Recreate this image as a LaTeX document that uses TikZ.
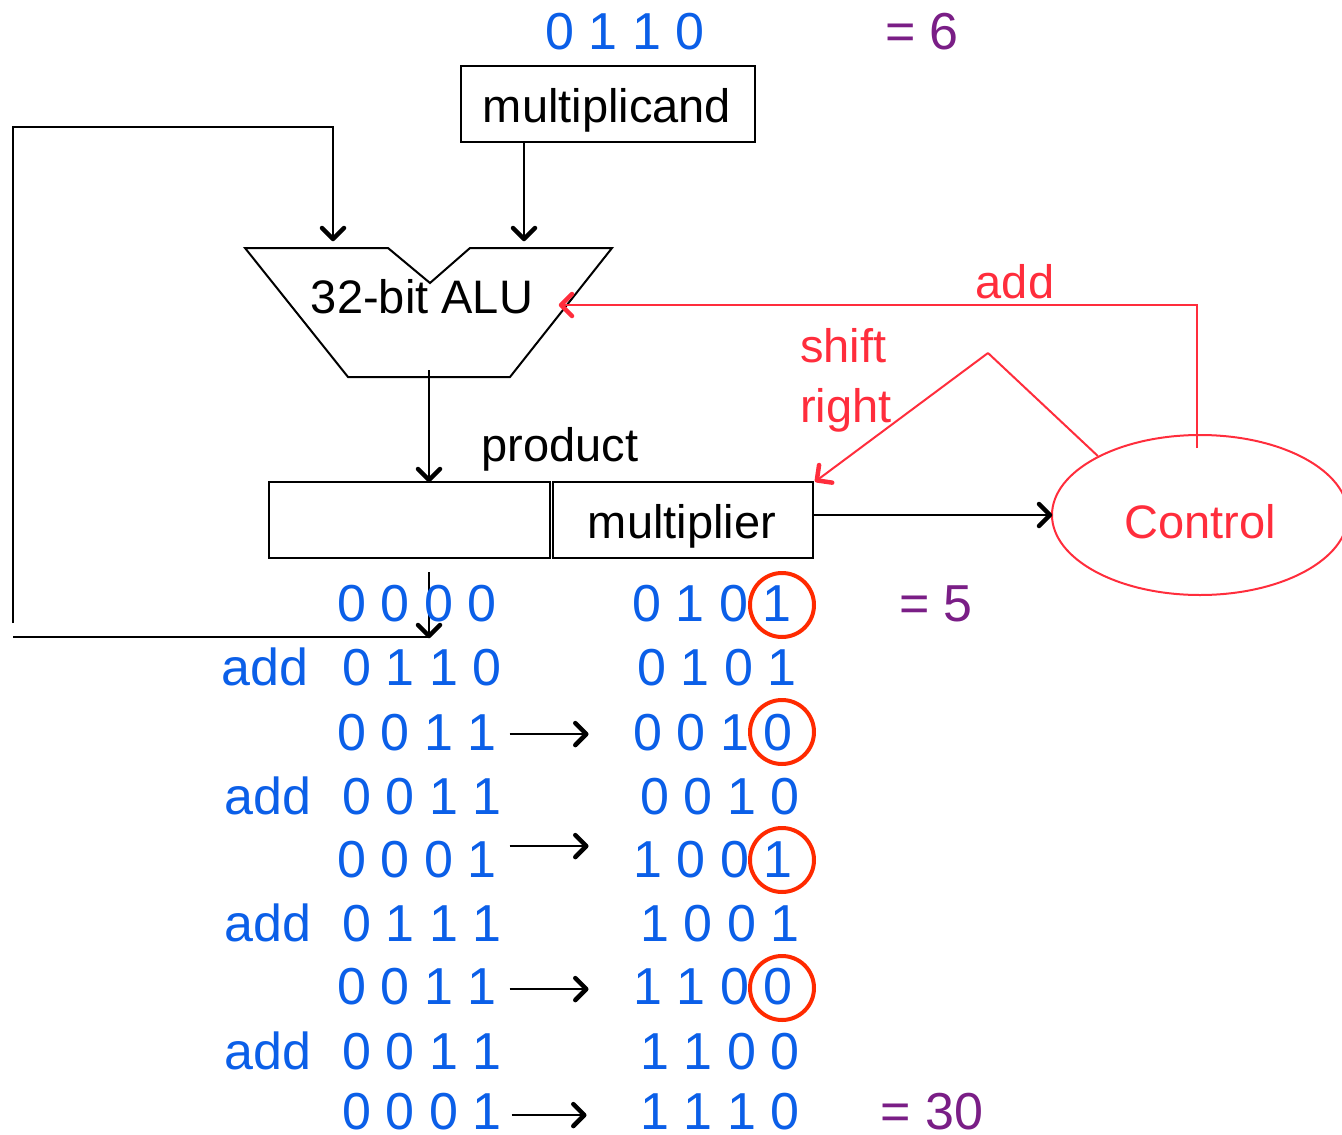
\documentclass[tikz,border=0pt]{standalone}
\usepackage{fontspec}
\setmainfont{Liberation Sans}
\usetikzlibrary{arrows.meta,shapes.geometric,calc,decorations.markings}
\definecolor{nblue}{HTML}{0B5FE8}
\definecolor{npurple}{HTML}{7A1E86}
\definecolor{nred}{HTML}{FF2D3C}
\definecolor{cred}{HTML}{FF2A00}
\tikzset{
  arr/.style={postaction={decorate,decoration={markings,mark=at position 1 with {\draw[line width=4.5pt,line cap=round,line join=round] (-12pt,11pt) -- (-1pt,0pt) -- (-12pt,-11pt);}}}},
  blk/.style={line width=2pt,black},
  rline/.style={line width=2pt,nred},
  box/.style={draw,line width=2pt,inner sep=0pt},
  lbl/.style={inner sep=0pt,anchor=base,font=\fontsize{47}{52}\selectfont},
  rlbl/.style={lbl,text=nred},
  num/.style={inner sep=0pt,anchor=base,text=nblue,font=\fontsize{52}{58}\selectfont},
  eqn/.style={inner sep=0pt,anchor=base,text=npurple,font=\fontsize{52}{58}\selectfont},
  circ/.style={circle,draw=cred,line width=4pt,minimum size=64pt,inner sep=0pt},
}
\begin{document}
\begin{tikzpicture}[x=1pt,y=-1pt]
\useasboundingbox (0,0) rectangle (1342,1135);
% top
\node[num] (top) at (625,49) {0 1 1 0};
\node[eqn] (eq6) at (922,49) {= 6};
\node[box,minimum width=294pt,minimum height=76pt] (mcand) at (608,104) {};
\node[lbl] (mcandt) at (607,122) {multiplicand};
% ALU
\draw[blk,line join=miter] (245,248) -- (388,248) -- (430,283) -- (470,248) -- (612,248) -- (510,377) -- (348,377) -- cycle;
\node[lbl] (alu) at (422,313) {32-bit ALU};
\coordinate (aluin1) at (333,240);
\coordinate (aluin2) at (524,240);
\coordinate (alur) at (560,305);
\coordinate (aluout) at (429,370);
\draw[blk,arr] (mcand.south -| aluin2) -- (aluin2);
% feedback
\coordinate (fbtop) at (13,127);
\coordinate (fbbot) at (13,623);
\coordinate (fbl) at (13,637);
\coordinate (fbr) at (429,637);
\coordinate (fbs) at (429,572);
\draw[blk] (fbbot) -- (fbtop) -| ([yshift=14pt]aluin1);
\draw[blk,arr] ([yshift=14pt]aluin1) -- (aluin1);
\draw[blk] (fbl) -- (fbr);
\draw[blk,arr] (fbs) -- (fbr);
% registers
\node[box,minimum width=281pt,minimum height=76pt] (prod) at (409.5,520) {};
\node[box,minimum width=260pt,minimum height=76pt] (mult) at (683,520) {};
\node[lbl] (multt) at (682,538) {multiplier};
\node[lbl] (prodt) at (560,461) {product};
\draw[blk,arr] (aluout) -- (aluout |- prod.north);
% control
\node[ellipse,draw=nred,line width=2pt,minimum width=296pt,minimum height=160pt,inner sep=0pt,text=nred,text height=46pt,text depth=0pt,font=\fontsize{47}{52}\selectfont] (ctrl) at (1200,515) {Control};
\draw[blk,arr] (mult.east |- ctrl.west) -- (ctrl.west);
\coordinate (addc) at (1197,448);
\draw[rline,arr] (addc) |- (alur);
\node[rlbl] (addl) at (1015,298) {add};
\coordinate (apex) at (988,353);
\draw[rline] (ctrl.150) -- (apex);
\draw[rline,arr] (apex) -- ([xshift=2pt]mult.north east);
\node[rlbl,anchor=base west] (shiftl) at (800,362) {shift};
\node[rlbl,anchor=base west] (rightl) at (800,422) {right};
% rows
\node[num] (r1l) at (417,621) {0 0 0 0};
\node[num] (r1r) at (712,621) {0 1 0 1};
\node[eqn] (eq5) at (936,621) {= 5};
\node[num] (a2) at (265,685) {add};
\node[num] (r2l) at (422,685) {0 1 1 0};
\node[num] (r2r) at (717,685) {0 1 0 1};
\node[num] (r3l) at (417,750) {0 0 1 1};
\node[num] (r3r) at (713,750) {0 0 1 0};
\node[num] (a4) at (268,814) {add};
\node[num] (r4l) at (422,814) {0 0 1 1};
\node[num] (r4r) at (720,814) {0 0 1 0};
\node[num] (r5l) at (417,877) {0 0 0 1};
\node[num] (r5r) at (713,877) {1 0 0 1};
\node[num] (a6) at (268,941) {add};
\node[num] (r6l) at (422,941) {0 1 1 1};
\node[num] (r6r) at (720,941) {1 0 0 1};
\node[num] (r7l) at (417,1004) {0 0 1 1};
\node[num] (r7r) at (713,1004) {1 1 0 0};
\node[num] (a8) at (268,1069) {add};
\node[num] (r8l) at (422,1069) {0 0 1 1};
\node[num] (r8r) at (720,1069) {1 1 0 0};
\node[num] (r9l) at (422,1129) {0 0 0 1};
\node[num] (r9r) at (720,1129) {1 1 1 0};
\node[eqn] (eq30) at (932,1129) {= 30};
% shift arrows
\draw[blk,arr] ([xshift=13pt,yshift=-2pt]r3l.east) -- ([xshift=-46pt,yshift=-2pt]r3r.west);
\draw[blk,arr] ([xshift=13pt,yshift=13pt]r5l.east) -- ([xshift=-46pt,yshift=13pt]r5r.west);
\draw[blk,arr] ([xshift=13pt,yshift=-3pt]r7l.east) -- ([xshift=-46pt,yshift=-3pt]r7r.west);
\draw[blk,arr] ([xshift=10pt,yshift=-4pt]r9l.east) -- ([xshift=-55pt,yshift=-4pt]r9r.west);
% circles
\node[circ] (c1) at (782,605) {};
\node[circ] (c2) at (782,732) {};
\node[circ] (c3) at (782,860) {};
\node[circ] (c4) at (782,988) {};
\end{tikzpicture}
\end{document}
